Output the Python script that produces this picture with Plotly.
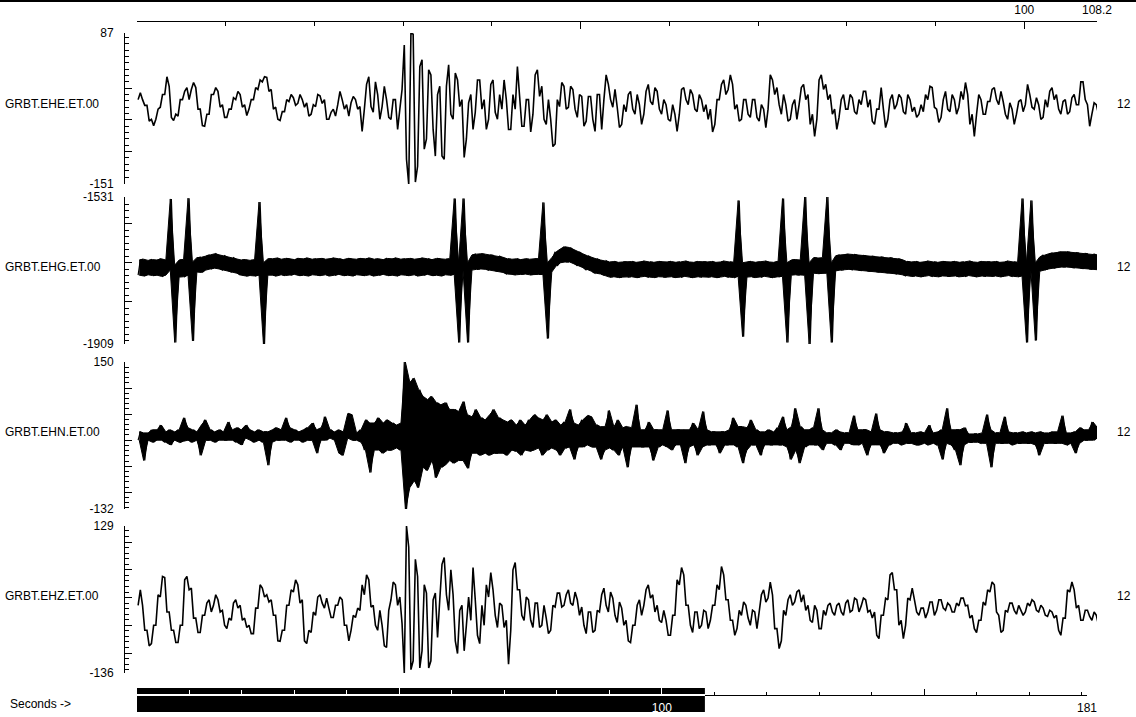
import plotly.graph_objects as go

# ---------------- data (per 0.5 s window: max / min of the trace, counts) -------------
STEP = 0.5  # seconds per envelope window
T_END = 108.2
TOTAL = 181

STATIONS = ["GRBT.EHE.ET.00", "GRBT.EHG.ET.00", "GRBT.EHN.ET.00", "GRBT.EHZ.ET.00"]
RIGHT_LABEL = "12"
Y_MIN = [-151, -1909, -132, -136]
Y_MAX = [87, -1531, 150, 129]

EHE_HI = [-7, -18, -27, -49, -33, -10, 18, 3, -41, -18,
          -5, 1, 9, 1, -33, -41, -10, 1, -5, -26,
          -33, -15, -5, -10, -26, -18, 1, 13, 18, 17,
          -2, -30, -37, -18, -10, -15, -10, -18, -23, -26,
          -10, -12, -18, -38, -33, -5, -18, -26, -13, -18,
          -29, 6, 18, 10, -10, 3, -18, -18, -18, -2,
          68, 87, 85, 34, 45, 29, 21, -10, 3, 3,
          37, 24, 13, -18, -23, -10, 13, 13, -18, 6,
          13, -10, 13, -18, -10, 34, -13, -18, -18, 21,
          29, 3, -18, -49, -18, 9, 3, 3, -2, -10,
          -13, -13, -13, -10, -10, 21, 6, -2, -30, -26,
          -10, -5, -10, -26, -5, 6, 1, -5, -18, -26,
          -26, -41, -2, 1, -2, -10, -10, -18, -26, -33,
          -18, 6, 13, 21, 6, -26, -18, -18, -18, -18,
          -26, -33, 21, 13, 1, -10, -26, -26, -18, 1,
          6, -10, -41, 13, 21, 6, -10, -33, -18, -10,
          -10, -15, -18, -5, -5, -18, -33, 1, -33, -18,
          -10, -10, -15, -10, -18, -30, -26, -10, 3, 1,
          -33, -18, -5, -10, -18, -5, 9, -10, -41, -10,
          -18, -21, -2, 1, -5, -21, -23, -33, -21, -18,
          6, -10, -15, -26, -18, -5, 1, -10, -21, -18,
          -15, -10, 10, 10, -26, -23, -26]
EHE_LO = [-18, -27, -52, -59, -49, -30, -10, -46, -51, -44,
          -18, -18, -2, -33, -59, -60, -41, -10, -30, -46,
          -46, -33, -18, -30, -43, -33, -18, -2, 10, -5,
          -33, -49, -51, -37, -21, -27, -24, -30, -44, -41,
          -29, -24, -49, -49, -44, -26, -33, -44, -23, -33,
          -68, -33, -29, -38, -49, -29, -46, -49, -65, -33,
          -112, -151, -148, -123, -96, -80, -65, -107, -107, -112,
          -41, -49, -29, -109, -80, -65, -38, -33, -65, -49,
          -38, -49, -33, -65, -65, -33, -60, -60, -69, -41,
          -13, -49, -57, -92, -88, -29, -33, -30, -33, -46,
          -60, -52, -49, -68, -65, -18, -18, -30, -62, -57,
          -37, -33, -41, -57, -41, -21, -26, -33, -41, -49,
          -52, -68, -41, -18, -26, -33, -37, -37, -49, -69,
          -57, -18, -10, -2, -33, -52, -49, -41, -46, -46,
          -52, -62, -33, -10, -26, -41, -52, -49, -49, -26,
          -18, -57, -76, -49, -2, -18, -41, -65, -46, -33,
          -33, -37, -41, -26, -30, -52, -57, -33, -62, -49,
          -33, -26, -37, -41, -37, -46, -41, -37, -18, -30,
          -54, -46, -33, -37, -41, -30, -18, -57, -76, -41,
          -41, -41, -21, -18, -26, -41, -49, -57, -41, -37,
          -26, -30, -33, -49, -46, -30, -18, -33, -41, -41,
          -37, -26, -26, -18, -60, -41, -41]

EHG_HI = [-1693, -1691, -1694, -1692, -1693, -1690, -1693, -1536, -1706, -1693,
          -1692, -1534, -1698, -1687, -1686, -1682, -1680, -1677, -1680, -1682,
          -1685, -1687, -1690, -1693, -1692, -1694, -1693, -1544, -1700, -1690,
          -1690, -1688, -1691, -1689, -1690, -1692, -1689, -1690, -1688, -1691,
          -1690, -1689, -1691, -1690, -1688, -1690, -1692, -1689, -1690, -1691,
          -1689, -1690, -1688, -1691, -1690, -1692, -1689, -1690, -1688, -1691,
          -1690, -1689, -1691, -1690, -1688, -1690, -1692, -1689, -1690, -1691,
          -1690, -1535, -1700, -1535, -1700, -1680, -1678, -1677, -1678, -1680,
          -1681, -1683, -1686, -1690, -1691, -1690, -1692, -1690, -1691, -1690,
          -1690, -1545, -1700, -1687, -1672, -1664, -1659, -1661, -1667, -1672,
          -1677, -1682, -1687, -1690, -1693, -1695, -1698, -1697, -1699, -1698,
          -1698, -1697, -1699, -1698, -1696, -1698, -1699, -1697, -1698, -1698,
          -1697, -1699, -1698, -1696, -1698, -1699, -1697, -1698, -1698, -1697,
          -1699, -1698, -1696, -1698, -1699, -1540, -1700, -1698, -1697, -1699,
          -1698, -1696, -1698, -1699, -1697, -1535, -1700, -1693, -1692, -1693,
          -1531, -1700, -1687, -1688, -1687, -1531, -1700, -1682, -1680, -1679,
          -1678, -1679, -1680, -1681, -1682, -1683, -1684, -1685, -1686, -1687,
          -1688, -1690, -1692, -1697, -1698, -1697, -1699, -1698, -1696, -1698,
          -1699, -1697, -1698, -1698, -1697, -1699, -1698, -1696, -1698, -1699,
          -1697, -1698, -1698, -1697, -1699, -1698, -1696, -1698, -1699, -1535,
          -1700, -1540, -1700, -1685, -1680, -1677, -1675, -1673, -1672, -1672,
          -1673, -1674, -1675, -1676, -1677, -1678, -1680]
EHG_LO = [-1732, -1734, -1731, -1733, -1732, -1735, -1732, -1719, -1905, -1737,
          -1736, -1732, -1901, -1724, -1725, -1719, -1716, -1714, -1716, -1719,
          -1721, -1724, -1727, -1732, -1734, -1733, -1734, -1732, -1909, -1732,
          -1732, -1734, -1731, -1733, -1732, -1730, -1733, -1732, -1734, -1731,
          -1732, -1733, -1731, -1734, -1732, -1730, -1733, -1732, -1734, -1731,
          -1732, -1733, -1731, -1734, -1732, -1730, -1733, -1732, -1734, -1731,
          -1732, -1733, -1731, -1734, -1732, -1730, -1733, -1732, -1734, -1731,
          -1732, -1730, -1905, -1720, -1905, -1719, -1717, -1716, -1717, -1719,
          -1720, -1722, -1725, -1729, -1730, -1731, -1730, -1729, -1731, -1730,
          -1730, -1730, -1895, -1724, -1708, -1700, -1698, -1698, -1703, -1708,
          -1714, -1719, -1724, -1727, -1729, -1732, -1737, -1736, -1738, -1737,
          -1737, -1736, -1738, -1737, -1735, -1737, -1738, -1736, -1737, -1737,
          -1736, -1738, -1737, -1735, -1737, -1738, -1736, -1737, -1737, -1736,
          -1738, -1737, -1735, -1737, -1738, -1735, -1890, -1737, -1736, -1738,
          -1737, -1735, -1737, -1738, -1736, -1735, -1905, -1732, -1731, -1732,
          -1732, -1909, -1727, -1728, -1727, -1727, -1905, -1721, -1719, -1718,
          -1717, -1718, -1719, -1720, -1721, -1722, -1723, -1724, -1725, -1726,
          -1727, -1729, -1731, -1734, -1735, -1734, -1736, -1735, -1733, -1735,
          -1736, -1734, -1735, -1735, -1734, -1736, -1735, -1733, -1735, -1736,
          -1734, -1735, -1735, -1734, -1736, -1735, -1733, -1735, -1736, -1734,
          -1905, -1720, -1900, -1722, -1718, -1716, -1714, -1712, -1711, -1711,
          -1712, -1713, -1714, -1715, -1716, -1717, -1718]

EHN_HI = [16, 14, 14, 20, 20, 29, 16, 20, 16, 20,
          43, 24, 20, 16, 29, 39, 20, 16, 20, 16,
          35, 20, 24, 20, 29, 20, 16, 20, 16, 16,
          20, 24, 20, 43, 24, 20, 16, 20, 24, 33,
          20, 24, 45, 20, 16, 20, 16, 51, 49, 14,
          20, 39, 33, 33, 43, 33, 39, 33, 29, 33,
          150, 111, 119, 97, 84, 78, 84, 72, 68, 72,
          59, 59, 55, 74, 49, 45, 59, 43, 39, 49,
          59, 43, 39, 35, 39, 29, 39, 29, 39, 49,
          43, 39, 49, 35, 39, 29, 35, 59, 33, 29,
          39, 47, 45, 29, 26, 26, 57, 26, 39, 24,
          26, 24, 68, 20, 20, 35, 20, 20, 20, 57,
          20, 20, 20, 20, 20, 33, 20, 55, 20, 16,
          16, 16, 16, 20, 43, 26, 26, 24, 39, 20,
          16, 16, 20, 16, 24, 45, 20, 26, 61, 26,
          20, 20, 24, 61, 20, 14, 14, 20, 16, 14,
          14, 47, 20, 20, 20, 16, 51, 20, 16, 16,
          14, 14, 16, 33, 14, 14, 16, 14, 29, 14,
          16, 20, 61, 20, 20, 20, 24, 12, 12, 12,
          14, 49, 20, 14, 14, 45, 16, 14, 14, 16,
          14, 16, 14, 16, 14, 14, 16, 16, 47, 14,
          14, 16, 24, 20, 20, 35, 24]
EHN_LO = [0, -39, 0, -4, 0, 0, -4, -9, 0, -4,
          -2, 0, -4, 0, -29, 0, 0, -4, 0, 0,
          0, 0, -4, -9, 4, 0, -4, 0, -4, -48,
          -4, 0, 0, 0, -4, 0, 0, -4, 0, 0,
          -25, 0, 0, 4, 0, -25, -29, 4, 0, 0,
          -4, -19, -62, -19, -19, -25, -19, -19, -15, -19,
          -132, -91, -78, -91, -52, -58, -39, -72, -52, -48,
          -39, -44, -39, -39, -54, -25, -25, -29, -25, -29,
          -25, -25, -25, -29, -19, -21, -29, -19, -21, -19,
          -15, -29, -19, -15, -19, -29, -15, -13, -37, -13,
          -13, -9, -13, -13, -37, -19, -15, -19, -29, -13,
          -52, -13, -13, -13, -13, -13, -39, -13, -9, -13,
          -19, -9, -9, -44, -13, -9, -29, -13, -9, -9,
          -9, -25, -9, -9, -9, -13, -44, -19, -9, -9,
          -29, -9, -9, -9, -9, -9, -13, -37, -19, -44,
          -13, -9, -9, -9, -19, -6, -6, -9, -19, -6,
          -6, -9, -9, -6, -29, -9, -9, -9, -25, -9,
          -6, -6, -9, -6, -6, -9, -9, -6, -9, -6,
          -9, -37, -6, -9, -19, -48, -9, -4, -4, -4,
          -6, -6, -52, -6, -6, -6, -6, -9, -6, -6,
          -6, -6, -9, -29, -6, -6, -6, -6, -6, -9,
          -6, -25, -6, 0, 0, 0, 4]

EHZ_HI = [14, -14, -59, -50, 5, 38, 36, -26, -59, -50,
          32, 38, 17, -37, -32, -10, -4, 5, -4, -23,
          -37, -10, -4, -14, -37, -50, -19, 23, 17, 5,
          -4, -32, -59, -14, 14, 32, 23, -4, -59, -26,
          1, 5, -1, -19, -14, 1, -4, -50, -32, -19,
          23, 41, 32, -14, -23, -50, -23, 28, 23, 1,
          129, 91, 69, 38, 23, 8, -4, 8, 60, 72,
          50, 5, -23, -14, 1, 54, -4, -14, 23, 45,
          14, -10, -14, -41, 50, 63, 14, 1, -4, -10,
          -10, -14, -37, -14, 8, 8, 5, 14, 10, -4,
          -17, -26, -26, -23, 5, 17, 10, -1, -8, -19,
          -41, -50, -14, -4, 14, 23, 5, -14, -23, -41,
          -32, 32, 54, 41, -14, -26, -26, -23, -26, -14,
          23, 56, 41, -4, -41, -23, -8, -14, -23, -26,
          5, 14, 28, 5, -56, -23, -4, 5, 10, 14,
          5, -14, -14, -23, -23, -14, -10, -14, -10, -10,
          -4, -1, -4, -1, -4, -23, -26, -32, -1, 41,
          45, 14, -41, -1, 17, -4, -19, -19, -8, -8,
          -4, -4, -10, -14, -10, -1, -1, -14, -32, -41,
          -8, 14, 28, 23, -32, -23, -10, -10, -14, -23,
          -10, -4, -8, -14, -19, -23, -26, -32, -37, 14,
          28, 14, -14, -23, -23, -26, -32]
EHZ_LO = [-14, -59, -87, -83, -50, 1, -26, -59, -81, -81,
          -50, 14, -37, -63, -63, -32, -26, -14, -26, -50,
          -56, -41, -19, -41, -54, -65, -65, -19, 1, -8,
          -32, -78, -79, -59, -14, 10, -10, -78, -83, -63,
          -32, -10, -19, -36, -36, -14, -50, -78, -59, -36,
          -23, 5, -17, -50, -59, -87, -90, -4, -14, -47,
          -136, -130, -114, -127, -96, -127, -114, -72, -4, 5,
          -23, -78, -101, -96, -50, -41, -68, -83, -50, 1,
          -32, -54, -54, -120, -59, 14, -32, -41, -41, -54,
          -54, -50, -65, -59, -17, -17, -14, -10, -14, -32,
          -50, -65, -63, -59, -26, -14, -26, -32, -45, -50,
          -78, -81, -50, -32, -14, -1, -26, -41, -45, -68,
          -68, -32, 23, -14, -50, -63, -56, -50, -56, -41,
          -14, 14, -4, -41, -68, -56, -32, -37, -50, -56,
          -26, -8, -1, -56, -92, -78, -32, -14, -8, -8,
          -23, -41, -45, -56, -56, -32, -26, -32, -26, -32,
          -26, -23, -26, -15, -26, -37, -68, -74, -32, -4,
          14, -50, -74, -50, -4, -26, -32, -37, -26, -32,
          -23, -19, -23, -26, -26, -15, -15, -37, -56, -63,
          -41, -14, 10, -26, -63, -59, -26, -23, -30, -32,
          -26, -15, -23, -26, -32, -34, -37, -59, -68, -37,
          10, -19, -41, -41, -34, -41, -50]

TRACES = [(EHE_HI, EHE_LO), (EHG_HI, EHG_LO), (EHN_HI, EHN_LO), (EHZ_HI, EHZ_LO)]
FILLED = [False, True, True, False]   # noise-dominated channels drawn as a solid min/max band


def envelope_line(hi, lo):
    """Connect each window's extremes, visiting first the one nearest the previous point."""
    xs, ys, prev = [], [], None
    for i, (h, l) in enumerate(zip(hi, lo)):
        t0 = i * STEP
        if prev is None or abs(l - prev) <= abs(h - prev):
            pair = (l, h)
        else:
            pair = (h, l)
        xs += [t0 + STEP * 0.25, t0 + STEP * 0.75]
        ys += list(pair)
        prev = pair[1]
    return xs, ys


# ---------------- geometry (pixels of the 1136 x 717 page) -------------------
W, H = 1136, 717
PX0, PX1 = 137, 1097          # trace area
AXIS_X = 124                  # amplitude axes
PANELS = [(33, 184), (197, 344), (362, 509), (526, 673)]
LABEL_Y = [104, 267, 432, 596]
BOT_AXIS_Y = 695
BOT_X1 = 1087                 # 181 s
BAR_X1 = PX0 + T_END / TOTAL * (BOT_X1 - PX0)


def fx(px):
    return px / W


def fy(py):
    return 1 - py / H


FONT = dict(family="Liberation Sans, Arial, sans-serif", size=12, color="black")

fig = go.Figure()
for k, (hi, lo) in enumerate(TRACES):
    yref = "y" if k == 0 else f"y{k + 1}"
    if FILLED[k]:
        tc = [i * STEP + STEP / 2 for i in range(len(hi))]
        fig.add_trace(go.Scatter(x=tc, y=hi, mode="lines", xaxis="x", yaxis=yref,
                                 line=dict(color="black", width=1), hoverinfo="skip"))
        fig.add_trace(go.Scatter(x=tc, y=lo, mode="lines", xaxis="x", yaxis=yref,
                                 line=dict(color="black", width=1), fill="tonexty",
                                 fillcolor="black", hoverinfo="skip"))
    xs, ys = envelope_line(hi, lo)
    fig.add_trace(go.Scatter(x=xs, y=ys, mode="lines", xaxis="x", yaxis=yref,
                             line=dict(color="black", width=1.2 if FILLED[k] else 1.6),
                             hoverinfo="skip"))

# helper traces so that every axis is drawn
fig.add_trace(go.Scatter(x=[], y=[], xaxis="x2", yaxis="y"))
fig.add_trace(go.Scatter(x=[], y=[], xaxis="x3", yaxis="y5"))
fig.add_trace(go.Scatter(x=[], y=[], xaxis="x4", yaxis="y5"))

MAJOR = [[-151, -100, -50, 0, 87],
         [-1909, -1800, -1700, -1600, -1531],
         [-132, -100, -50, 0, 50, 100, 150],
         [-136, -100, -50, 0, 50, 100, 129]]
MINOR_DT = [10, 100 / 6, 10, 10]

layout = dict(
    template="none",
    height=H, autosize=True,
    margin=dict(l=0, r=0, t=0, b=0, pad=0, autoexpand=False),
    paper_bgcolor="white", plot_bgcolor="rgba(0,0,0,0)", font=FONT, showlegend=False,
    xaxis=dict(domain=[fx(PX0), fx(PX1)], range=[0, T_END], visible=False, fixedrange=True,
               automargin=False),
    xaxis2=dict(overlaying="x", side="top", anchor="free", position=fy(21), automargin=False,
                range=[0, T_END], showline=True, linecolor="black", linewidth=1,
                ticks="inside", ticklen=7, tickcolor="black", tickwidth=1,
                tickvals=[0, 50, 100, T_END], ticktext=["", "", "100", "108.2"],
                minor=dict(dtick=10, tick0=0, ticks="inside", ticklen=4, tickcolor="black"),
                showgrid=False, zeroline=False, tickfont=FONT, ticklabelstandoff=2),
    xaxis3=dict(domain=[fx(BAR_X1), fx(BOT_X1)], range=[T_END, TOTAL], anchor="free",
                position=fy(BOT_AXIS_Y), automargin=False,
                showline=True, linecolor="black", linewidth=1,
                ticks="inside", ticklen=6, tickcolor="black",
                tickvals=[150, TOTAL], ticktext=["", "181"],
                minor=dict(dtick=10, tick0=0, ticks="inside", ticklen=3, tickcolor="black"),
                showgrid=False, zeroline=False, tickfont=FONT, ticklabelstandoff=2),
    xaxis4=dict(domain=[fx(PX0), fx(BAR_X1)], range=[0, T_END], anchor="free",
                position=fy(BOT_AXIS_Y), automargin=False,
                showline=True, linecolor="white", linewidth=2,
                ticks="inside", ticklen=6, tickcolor="white",
                tickvals=[0, 50, 100], ticktext=["", "", "100"],
                minor=dict(dtick=10, tick0=0, ticks="inside", ticklen=4, tickcolor="white"),
                showgrid=False, zeroline=False,
                tickfont=dict(family=FONT["family"], size=12, color="white"), ticklabelstandoff=2),
    yaxis5=dict(domain=[fy(712), fy(688)], range=[0, 1], visible=False, anchor="x3",
                automargin=False),
)

for k in range(4):
    top, bot = PANELS[k]
    main = "yaxis" if k == 0 else f"yaxis{k + 1}"
    ticktext = [str(v) if v in (Y_MIN[k], Y_MAX[k]) else "" for v in MAJOR[k]]
    layout[main] = dict(
        domain=[fy(bot), fy(top)], range=[Y_MIN[k], Y_MAX[k]], anchor="free",
        position=fx(AXIS_X), automargin=False, showline=True, linecolor="black", linewidth=1,
        ticks="inside", ticklen=7, tickcolor="black", tickvals=MAJOR[k], ticktext=ticktext,
        minor=dict(dtick=MINOR_DT[k], tick0=MAJOR[k][2], ticks="inside", ticklen=4,
                   tickcolor="black"),
        showgrid=False, zeroline=False, tickfont=FONT, ticklabelstandoff=8)

fig.update_layout(**layout)

annotations = []
for k in range(4):
    annotations.append(dict(text=STATIONS[k], x=fx(3), y=fy(LABEL_Y[k]), xref="paper", yref="paper",
                            xanchor="left", yanchor="middle", showarrow=False, font=FONT))
    annotations.append(dict(text=RIGHT_LABEL, x=fx(1115), y=fy(LABEL_Y[k]), xref="paper", yref="paper",
                            xanchor="left", yanchor="middle", showarrow=False, font=FONT))
annotations.append(dict(text="Seconds ->", x=fx(8), y=fy(704), xref="paper", yref="paper",
                        xanchor="left", yanchor="middle", showarrow=False, font=FONT))
fig.update_layout(annotations=annotations)

fig.update_layout(shapes=[
    dict(type="rect", xref="x4", yref="paper", x0=0, x1=T_END, y0=fy(712), y1=fy(688),
         fillcolor="black", line=dict(width=0), layer="below"),
    dict(type="line", xref="paper", yref="paper", x0=0, x1=1, y0=fy(1), y1=fy(1),
         line=dict(color="black", width=2)),
])

# the plot div is pinned to the page's top-left corner and the page margins are cleared
fig.write_html(
    "out.html", config={"displayModeBar": False, "responsive": False},
    default_width=f"{W}px; position:absolute; top:0; left:0",
    post_script=("document.documentElement.style.margin='0';"
                 "document.body.style.margin='0';"
                 "document.documentElement.style.overflow='hidden';"
                 "document.body.style.overflow='hidden';"))
